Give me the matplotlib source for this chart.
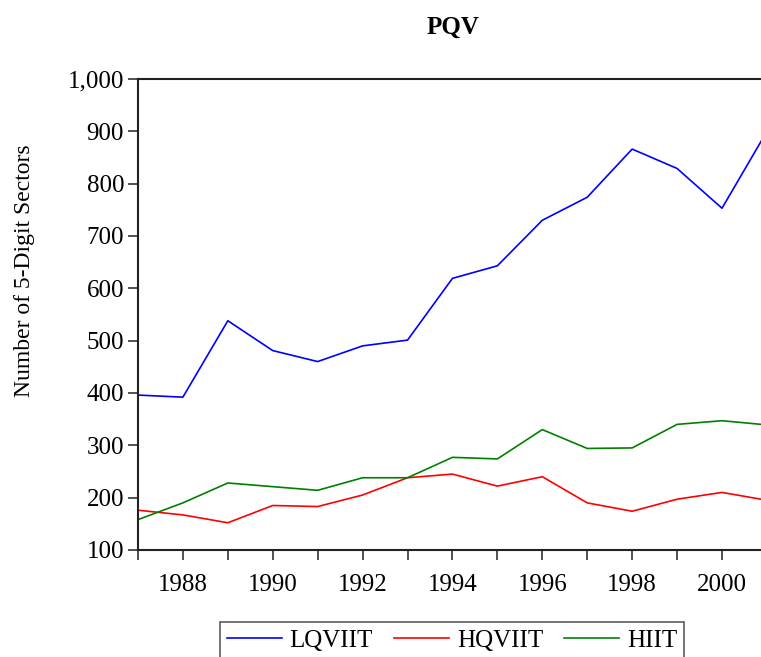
import matplotlib.pyplot as plt
from matplotlib.ticker import FuncFormatter, MultipleLocator

plt.rcParams['font.family'] = ['Liberation Serif', 'DejaVu Serif']

years = list(range(1987, 2002))
lqviit = [396, 392, 538, 481, 460, 490, 501, 619, 643, 730, 774, 866, 829, 753, 900]
hqviit = [176, 167, 152, 185, 183, 205, 238, 245, 222, 240, 190, 174, 197, 210, 195]
hiit = [158, 190, 228, 221, 214, 238, 238, 277, 274, 330, 294, 295, 340, 347, 339]

fig = plt.figure(figsize=(7.61, 6.57), dpi=100)
ax = fig.add_axes([0.1813, 0.1629, 0.8265, 0.7169])

ax.plot(years, lqviit, color='#0000ff', lw=1.2, label='LQVIIT')
ax.plot(years, hqviit, color='#ff0000', lw=1.2, label='HQVIIT')
ax.plot(years, hiit, color='#008000', lw=1.2, label='HIIT')

ax.set_xlim(1987, 2001)
ax.set_ylim(100, 1000)
ax.xaxis.set_major_locator(MultipleLocator(2))
ax.xaxis.set_minor_locator(MultipleLocator(1))
ax.yaxis.set_major_locator(MultipleLocator(100))
ax.yaxis.set_major_formatter(FuncFormatter(lambda v, p: f'{int(v):,}'))

ax.tick_params(axis='both', which='both', direction='out', length=7, width=1.2,
               color='#333333', labelsize=18)
ax.tick_params(axis='x', pad=10)
ax.tick_params(axis='y', pad=3)

for s in ['left', 'top', 'bottom']:
    ax.spines[s].set_linewidth(1.5)
    ax.spines[s].set_color('#222222')
ax.spines['right'].set_visible(False)

ax.set_ylabel('Number of 5-Digit Sectors', fontsize=17)
ax.yaxis.set_label_coords(-0.163, 0.594)
fig.text(0.595, 0.958, 'PQV', fontsize=18, fontweight='bold', ha='center', va='center')

leg = fig.legend(loc='upper center', bbox_to_anchor=(0.594, 0.053), ncol=3,
                 fontsize=18, frameon=True, fancybox=False, handlelength=2.2,
                 columnspacing=0.85, handletextpad=0.3, borderpad=0.3,
                 borderaxespad=0, edgecolor='#333333')
leg.get_frame().set_linewidth(1.2)

fig.savefig('out.png', dpi=100)
